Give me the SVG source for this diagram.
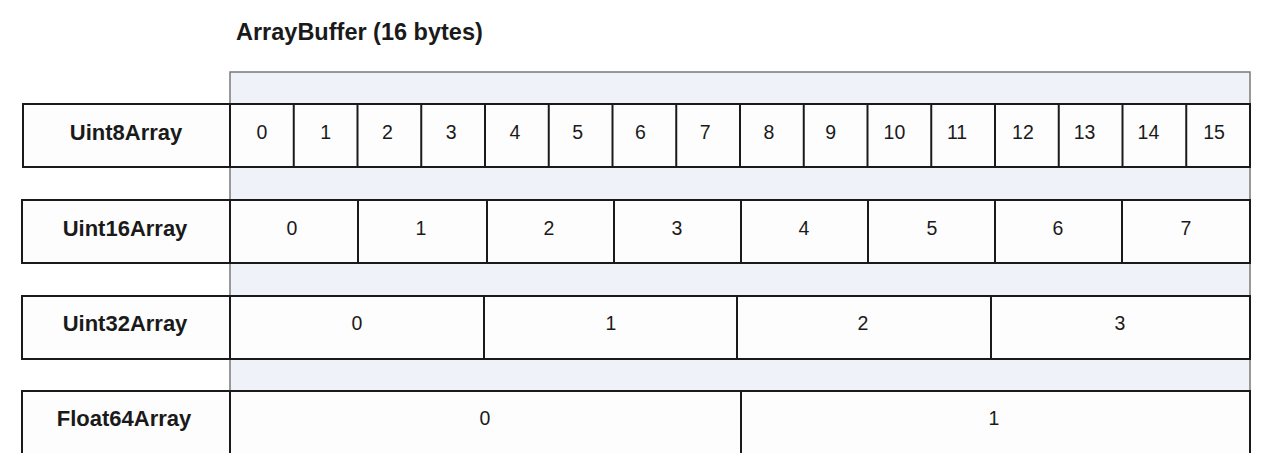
<svg xmlns="http://www.w3.org/2000/svg" width="1280" height="453" viewBox="0 0 1280 453">
<style>
.bg{fill:#eff3f9;stroke:#7a7a7a;stroke-width:1.5}
.box{fill:#fdfdfd;stroke:#1a1a1a;stroke-width:2}
.div{stroke:#1a1a1a;stroke-width:2}
.lbl{font-family:"Liberation Sans",Arial,sans-serif;font-size:22px;font-weight:bold;fill:#1a1a1a;text-anchor:middle}
.num{font-family:"Liberation Sans",Arial,sans-serif;font-size:19.5px;fill:#1a1a1a;text-anchor:middle}
.title{font-family:"Liberation Sans",Arial,sans-serif;font-size:23.5px;font-weight:bold;fill:#1a1a1a}
</style>
<rect width="1280" height="453" fill="#ffffff"/>
<g id="arraybuffer">
<rect class="bg" x="230" y="72" width="1020" height="400"/>
<text class="title" x="236" y="40">ArrayBuffer (16 bytes)</text>
</g>
<g id="uint8">
<rect class="box" x="23" y="104" width="1227" height="63"/>
<line class="div" x1="230" y1="104" x2="230" y2="167"/>
<text class="lbl" x="126" y="140">Uint8Array</text>
<g class="div">
<line x1="293.75" y1="104" x2="293.75" y2="167"/><line x1="357.5" y1="104" x2="357.5" y2="167"/>
<line x1="421.25" y1="104" x2="421.25" y2="167"/><line x1="485" y1="104" x2="485" y2="167"/>
<line x1="548.75" y1="104" x2="548.75" y2="167"/><line x1="612.5" y1="104" x2="612.5" y2="167"/>
<line x1="676.25" y1="104" x2="676.25" y2="167"/><line x1="740" y1="104" x2="740" y2="167"/>
<line x1="803.75" y1="104" x2="803.75" y2="167"/><line x1="867.5" y1="104" x2="867.5" y2="167"/>
<line x1="931.25" y1="104" x2="931.25" y2="167"/><line x1="995" y1="104" x2="995" y2="167"/>
<line x1="1058.75" y1="104" x2="1058.75" y2="167"/><line x1="1122.5" y1="104" x2="1122.5" y2="167"/>
<line x1="1186.25" y1="104" x2="1186.25" y2="167"/>
</g>
<text class="num" x="261.9" y="139">0</text><text class="num" x="325.6" y="139">1</text>
<text class="num" x="387.4" y="139">2</text><text class="num" x="451.1" y="139">3</text>
<text class="num" x="514.9" y="139">4</text><text class="num" x="577.6" y="139">5</text>
<text class="num" x="640.4" y="139">6</text><text class="num" x="705.1" y="139">7</text>
<text class="num" x="768.9" y="139">8</text><text class="num" x="830.6" y="139">9</text>
<text class="num" x="894.4" y="139">10</text><text class="num" x="957.1" y="139">11</text>
<text class="num" x="1022.9" y="139">12</text><text class="num" x="1084.6" y="139">13</text>
<text class="num" x="1148.4" y="139">14</text><text class="num" x="1214.1" y="139">15</text>
</g>
<g id="uint16">
<rect class="box" x="22" y="200" width="1228" height="63"/>
<line class="div" x1="230" y1="200" x2="230" y2="263"/>
<text class="lbl" x="125" y="236">Uint16Array</text>
<g class="div">
<line x1="358" y1="200" x2="358" y2="263"/><line x1="487" y1="200" x2="487" y2="263"/>
<line x1="614" y1="200" x2="614" y2="263"/><line x1="741" y1="200" x2="741" y2="263"/>
<line x1="868" y1="200" x2="868" y2="263"/><line x1="995" y1="200" x2="995" y2="263"/>
<line x1="1122" y1="200" x2="1122" y2="263"/>
</g>
<text class="num" x="292" y="235">0</text><text class="num" x="421" y="235">1</text>
<text class="num" x="549" y="235">2</text><text class="num" x="677" y="235">3</text>
<text class="num" x="804" y="235">4</text><text class="num" x="932" y="235">5</text>
<text class="num" x="1058" y="235">6</text><text class="num" x="1186" y="235">7</text>
</g>
<g id="uint32">
<rect class="box" x="22" y="296" width="1228" height="63"/>
<line class="div" x1="230" y1="296" x2="230" y2="359"/>
<text class="lbl" x="125" y="331">Uint32Array</text>
<g class="div">
<line x1="484" y1="296" x2="484" y2="359"/><line x1="737" y1="296" x2="737" y2="359"/>
<line x1="991" y1="296" x2="991" y2="359"/>
</g>
<text class="num" x="357" y="330">0</text><text class="num" x="611" y="330">1</text>
<text class="num" x="863" y="330">2</text><text class="num" x="1120" y="330">3</text>
</g>
<g id="float64">
<rect class="box" x="22" y="391" width="1228" height="80"/>
<line class="div" x1="230" y1="391" x2="230" y2="471"/>
<text class="lbl" x="124" y="426">Float64Array</text>
<line class="div" x1="741" y1="391" x2="741" y2="471"/>
<text class="num" x="485" y="425">0</text><text class="num" x="994" y="425">1</text>
</g>
</svg>
